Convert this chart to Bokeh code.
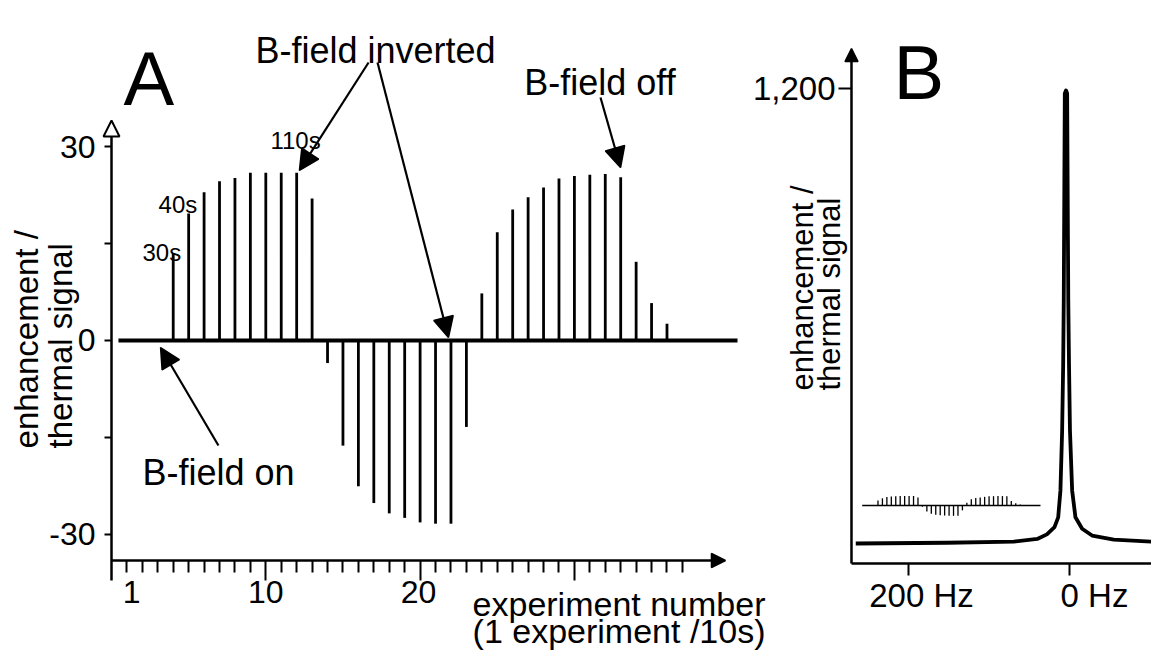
from bokeh.plotting import figure
from bokeh.models import Range1d, FixedTicker, Label, Arrow, NormalHead, LinearAxis
from bokeh.embed import file_html
from bokeh.resources import INLINE

FONT = "Liberation Sans"

# ---------------- Panel A data (experiment number vs enhancement) ----------------
pos1_exp = [4, 5, 6, 7, 8, 9, 10, 11, 12, 13]
pos1_val = [13.5, 19.7, 23.0, 24.7, 25.2, 26.0, 26.0, 26.0, 26.0, 22.0]
neg_exp = [14, 15, 16, 17, 18, 19, 20, 21, 22, 23]
neg_val = [-3.5, -16.3, -22.6, -25.2, -26.8, -27.5, -28.2, -28.4, -28.4, -13.4]
pos2_exp = [24, 25, 26, 27, 28, 29, 30, 31, 32, 33, 34, 35, 36]
pos2_val = [7.3, 16.8, 20.3, 22.2, 23.7, 25.1, 25.5, 25.7, 25.8, 25.3, 12.2, 5.8, 2.6]
baseline_exp = [0.45, 40.57]
baseline_val = [0.0, 0.0]
a_yticks = [-30, -15, 0, 15, 30]
a_ytick_labels = ["-30", "", "0", "", "30"]
a_xticks_major = [10, 20, 30]
a_xticks_minor = [i for i in range(1, 38) if i not in (10, 20, 30)]
a_xlabel_pos = [1.3, 10, 19.9]
a_xlabel_text = ["1", "10", "20"]

# ---------------- Panel B data (spectrum) ----------------
freq_hz = [265, 152, 69, 40, 28, 18.6, 14, 11.2, 9.1, 7.8, 7.1, 5.8, 4.3,
           2.9, 1.5, 0.6, -0.6, -3.3, -7.4, -15.7, -28, -55, -102]
signal_b = [0, 2, 5, 12, 24, 43, 69, 140, 298, 475, 641, 1187, 1195,
            1187, 641, 475, 298, 140, 69, 39, 21, 10, 5]
b_xticks = [200, 0]
b_xlabel_pos = [183.5, -31.0]
b_xlabel_text = ["200 Hz", "0 Hz"]
b_yticks = [1200]
b_ytick_labels = ["1,200"]

spike_exp = pos1_exp + neg_exp + pos2_exp
spike_val = pos1_val + neg_val + pos2_val

B = dict(x_range_name="hz", y_range_name="by")
INSET = dict(x_range_name="inset_x", y_range_name="inset_y")


def style_axis(ax, size):
    ax.axis_line_color = None
    ax.major_tick_line_color = "black"
    ax.minor_tick_line_color = "black"
    ax.major_tick_line_width = 2
    ax.minor_tick_line_width = 2
    ax.major_label_text_font = FONT
    ax.major_label_text_font_size = f"{size}px"
    ax.major_label_text_color = "black"


def lab(p, x, y, text, size, align="left", angle=0, **kw):
    p.add_layout(Label(x=x, y=y, text=text, text_font=FONT, text_font_size=f"{size}px",
                       text_align=align, text_baseline="alphabetic", angle=angle,
                       text_color="black", **kw))


def arrow(p, x0, y0, x1, y1, size=20, fill="black", lw=2.2, head_lw=1.5, **kw):
    p.add_layout(Arrow(end=NormalHead(size=size, fill_color=fill, line_color="black",
                                      line_width=head_lw),
                       x_start=x0, y_start=y0, x_end=x1, y_end=y1,
                       line_width=lw, line_color="black", **kw))


p = figure(width=1151, height=650, output_backend="svg", toolbar_location=None,
           x_range=Range1d(-7.194, 67.40), y_range=Range1d(-48.06, 52.71),
           min_border_left=0, min_border_right=0, min_border_top=0, min_border_bottom=0)
p.extra_x_ranges = {"hz": Range1d(1325.5, -101.7), "inset_x": Range1d(-193.45, 65.547)}
p.extra_y_ranges = {"by": Range1d(-282.2, 1432.1), "inset_y": Range1d(-397.3, 1383.6)}
p.outline_line_color = None
p.grid.visible = False
p.background_fill_color = "white"
p.border_fill_color = "white"

# ---------------- Panel A axes ----------------
ax_t = p.xaxis[0]
style_axis(ax_t, 32)
ax_t.fixed_location = -34.11
ax_t.ticker = FixedTicker(ticks=a_xticks_major, minor_ticks=a_xticks_minor)
ax_t.major_label_overrides = {10: "", 20: "", 30: ""}
ax_t.major_tick_in = 0
ax_t.major_tick_out = 20
ax_t.minor_tick_in = 0
ax_t.minor_tick_out = 12

ax_l = LinearAxis(fixed_location=-34.11)
style_axis(ax_l, 32)
ax_l.ticker = FixedTicker(ticks=a_xlabel_pos, minor_ticks=[])
ax_l.major_label_overrides = dict(zip(a_xlabel_pos, a_xlabel_text))
ax_l.major_tick_line_color = None
ax_l.minor_tick_line_color = None
ax_l.major_tick_in = 0
ax_l.major_tick_out = 0
ax_l.major_label_standoff = 20
p.add_layout(ax_l, "below")

ay = p.yaxis[0]
style_axis(ay, 32)
ay.fixed_location = 0
ay.ticker = FixedTicker(ticks=a_yticks, minor_ticks=[])
ay.major_label_overrides = dict(zip(a_yticks, a_ytick_labels))
ay.major_tick_in = 0
ay.major_tick_out = 7
ay.major_label_standoff = 9

# ---------------- Panel A marks ----------------
p.line(baseline_exp, baseline_val, line_width=4, color="black")
p.segment(x0=spike_exp, y0=[0] * len(spike_exp), x1=spike_exp, y1=spike_val,
          line_width=2.8, color="black")

arrow(p, 0, -34.11, 39.79, -34.11, size=14, lw=2.5)
arrow(p, 0, -37.21, 0, 34.1, size=16, fill="white", lw=2.5, head_lw=2)

lab(p, 0.78, 40.62, "A", 76)
lab(p, 9.33, 44.96, "B-field inverted", 36)
arrow(p, 16.66, 43.1, 12.18, 26.36)
arrow(p, 17.24, 43.1, 21.84, 0.47)
lab(p, 26.75, 40.0, "B-field off", 36)
arrow(p, 31.69, 37.67, 32.99, 26.82)
lab(p, 2.01, -20.47, "B-field on", 36)
arrow(p, 6.93, -16.28, 3.18, -1.09)
lab(p, 2.01, 13.64, "30s", 24)
lab(p, 3.05, 21.09, "40s", 24)
lab(p, 10.30, 31.0, "110s", 24)
lab(p, -5.51, -16.74, "enhancement /", 33, angle=1.5708)
lab(p, -3.31, -16.74, "thermal signal", 33, angle=1.5708)
lab(p, 23.4, -40.78, "experiment number", 34)
lab(p, 23.4, -44.96, "(1 experiment /10s)", 34)

# ---------------- Panel B axes ----------------
bx = LinearAxis(fixed_location=-52.75, **B)
style_axis(bx, 33)
bx.ticker = FixedTicker(ticks=b_xticks, minor_ticks=[])
bx.major_label_overrides = {200: "", 0: ""}
bx.major_tick_in = 0
bx.major_tick_out = 12
p.add_layout(bx, "below")

bl = LinearAxis(fixed_location=-52.75, **B)
style_axis(bl, 33)
bl.ticker = FixedTicker(ticks=b_xlabel_pos, minor_ticks=[])
bl.major_label_overrides = dict(zip(b_xlabel_pos, b_xlabel_text))
bl.major_tick_line_color = None
bl.minor_tick_line_color = None
bl.major_tick_in = 0
bl.major_tick_out = 0
bl.major_label_standoff = 13
p.add_layout(bl, "below")

by = LinearAxis(fixed_location=270.3, **B)
style_axis(by, 33)
by.ticker = FixedTicker(ticks=b_yticks, minor_ticks=[])
by.major_label_overrides = dict(zip(b_yticks, b_ytick_labels))
by.major_tick_in = 0
by.major_tick_out = 13
by.major_label_standoff = 3
p.add_layout(by, "left")

# ---------------- Panel B marks ----------------
p.line([270.3, -101.7], [-52.75, -52.75], line_width=2.5, color="black", **B)
p.line(freq_hz, signal_b, line_width=3.8, color="black", line_join="round", **B)
# miniature copy of the time series
p.line(baseline_exp, baseline_val, line_width=1.5, color="black", **INSET)
p.segment(x0=spike_exp, y0=[0] * len(spike_exp), x1=spike_exp, y1=spike_val,
          line_width=1.3, color="black", **INSET)

arrow(p, 270.3, -52.75, 270.3, 1305.5, size=13, lw=2.5, **B)
lab(p, 218.2, 1242.2, "B", 76, **B)
lab(p, 331.1, 403.5, "enhancement /", 31, angle=1.5708, **B)
lab(p, 297.6, 403.5, "thermal signal", 31, angle=1.5708, **B)

open("out.html", "w").write(file_html(p, INLINE))
